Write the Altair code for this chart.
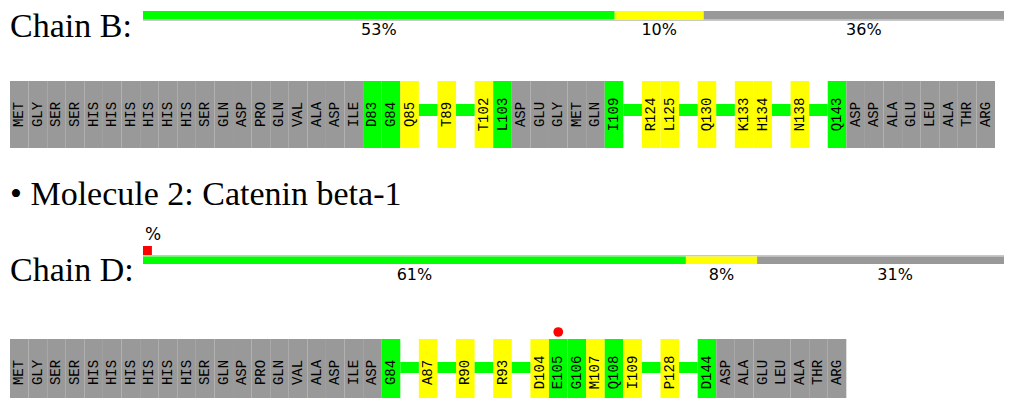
import altair as alt
import pandas as pd

# ---------------- data ----------------
chain_b_labels = ["MET", "GLY", "SER", "SER", "HIS", "HIS", "HIS", "HIS", "HIS", "HIS",
                  "SER", "GLN", "ASP", "PRO", "GLN", "VAL", "ALA", "ASP", "ILE",
                  "D83", "G84", "Q85", "", "T89", "", "T102", "L103",
                  "ASP", "GLU", "GLY", "MET", "GLN", "I109", "", "R124", "L125", "",
                  "Q130", "", "K133", "H134", "", "N138", "", "Q143",
                  "ASP", "ASP", "ALA", "GLU", "LEU", "ALA", "THR", "ARG"]
chain_b_status = ["none"] * 19 + ["ok", "ok", "mod", "gap", "mod", "gap", "mod", "ok",
                  "none", "none", "none", "none", "none", "ok", "gap", "mod", "mod", "gap",
                  "mod", "gap", "mod", "mod", "gap", "mod", "gap", "ok"] + ["none"] * 8

chain_d_labels = ["MET", "GLY", "SER", "SER", "HIS", "HIS", "HIS", "HIS", "HIS", "HIS",
                  "SER", "GLN", "ASP", "PRO", "GLN", "VAL", "ALA", "ASP", "ILE", "ASP",
                  "G84", "", "A87", "", "R90", "", "R93", "", "D104", "E105", "G106",
                  "M107", "Q108", "I109", "", "P128", "", "D144",
                  "ASP", "ALA", "GLU", "LEU", "ALA", "THR", "ARG"]
chain_d_status = ["none"] * 20 + ["ok", "gap", "mod", "gap", "mod", "gap", "mod", "gap",
                  "mod", "ok", "ok", "mod", "ok", "mod", "gap", "mod", "gap", "ok"] + ["none"] * 7
chain_d_outliers = ["E105"]

chain_b_pct_cats = ["ok", "mod", "none"]
chain_b_pct_vals = [53, 10, 36]
chain_d_pct_cats = ["ok", "mod", "none"]
chain_d_pct_vals = [61, 8, 31]
chain_d_density_bad = 1

status_domain = ["none", "ok", "mod", "bad"]
status_colors = ["#999999", "#00ff00", "#ffff00", "#ff0000"]

# ---------------- tables ----------------
def residue_table(labels, status):
    df = pd.DataFrame({"label": labels, "status": status})
    df["slot"] = range(len(df))
    df["slot_end"] = df["slot"] + 1
    df["mid"] = df["slot"] + 0.5
    return df


def pct_table(cats, vals):
    df = pd.DataFrame({"status": cats, "pct": vals})
    df["end"] = df["pct"].cumsum()
    df["start"] = df["end"] - df["pct"]
    df["mid"] = (df["start"] + df["end"]) / 2
    df["text"] = df["pct"].astype(str) + "%"
    return df


rb = residue_table(chain_b_labels, chain_b_status)
rd = residue_table(chain_d_labels, chain_d_status)
pb = pct_table(chain_b_pct_cats, chain_b_pct_vals)
pdd = pct_table(chain_d_pct_cats, chain_d_pct_vals)
dens = pd.DataFrame({"status": ["bad"], "start": [0], "end": [chain_d_density_bad], "text": ["%"]})
track = pd.DataFrame({"start": [0], "end": [100]})

# ---------------- scales ----------------
W, H = 996, 390
res_scale = alt.Scale(domain=[-0.1076, 53.484], nice=False, zero=False)
pct_scale = alt.Scale(domain=[-15.169, 96.742], nice=False, zero=False)
color_scale = alt.Scale(domain=status_domain, range=status_colors)


def residue_layers(df, top, bottom, conn_top, conn_bottom):
    cells = alt.Chart(df).transform_filter("datum.status != 'gap'").mark_rect().encode(
        x=alt.X("slot:Q", scale=res_scale, axis=None),
        x2="slot_end:Q",
        y=alt.value(top), y2=alt.value(bottom),
        color=alt.Color("status:N", scale=color_scale, legend=None),
    )
    conn = alt.Chart(df).transform_filter("datum.status == 'gap'").mark_rect(color="#00ff00").encode(
        x=alt.X("slot:Q", scale=res_scale, axis=None),
        x2="slot_end:Q",
        y=alt.value(conn_top), y2=alt.value(conn_bottom),
    )
    labels = alt.Chart(df).transform_filter("datum.status != 'gap'").mark_text(
        angle=270, font="Liberation Mono", fontSize=14, color="#000000",
        align="center", baseline="middle",
    ).encode(
        x=alt.X("mid:Q", scale=res_scale, axis=None),
        y=alt.value((top + bottom) / 2),
        text="label:N",
    )
    return [cells, conn, labels]


def pct_layers(df, top, bottom, label_y, line_top, line_bottom):
    line = alt.Chart(track).mark_rect(color="#c8c8c8").encode(
        x=alt.X("start:Q", scale=pct_scale, axis=None), x2="end:Q",
        y=alt.value(line_top), y2=alt.value(line_bottom),
    )
    bars = alt.Chart(df).mark_rect().encode(
        x=alt.X("start:Q", scale=pct_scale, axis=None), x2="end:Q",
        y=alt.value(top), y2=alt.value(bottom),
        color=alt.Color("status:N", scale=color_scale, legend=None),
    )
    text = alt.Chart(df).mark_text(font="DejaVu Sans", fontSize=16, color="#000000",
                                   align="center", baseline="middle").encode(
        x=alt.X("mid:Q", scale=pct_scale, axis=None),
        y=alt.value(label_y),
        text="text:N",
    )
    return [line, bars, text]


def title(txt, y):
    return alt.Chart(pd.DataFrame({"t": [txt]})).mark_text(
        font="Liberation Serif", fontSize=34, align="left", baseline="alphabetic", color="#000000"
    ).encode(x=alt.value(2), y=alt.value(y), text="t:N")


layers = []
layers.append(title("Chain B:", 28.5))
layers.append(title("\u2022 Molecule 2: Catenin beta-1", 197))
layers.append(title("Chain D:", 273))
layers += pct_layers(pb, 3, 11.5, 22, 11.5, 13)
layers += pct_layers(pdd, 248.5, 256, 267, 247, 248.5)

dens_bar = alt.Chart(dens).mark_rect().encode(
    x=alt.X("start:Q", scale=pct_scale, axis=None), x2="end:Q",
    y=alt.value(238), y2=alt.value(247),
    color=alt.Color("status:N", scale=color_scale, legend=None),
)
dens_text = alt.Chart(dens).mark_text(font="DejaVu Sans", fontSize=17, align="left",
                                      baseline="middle", dx=2, color="#000000").encode(
    x=alt.X("start:Q", scale=pct_scale, axis=None),
    y=alt.value(227),
    text="text:N",
)
layers += [dens_bar, dens_text]

layers += residue_layers(rb, 73, 140, 96, 108)
layers += residue_layers(rd, 331, 398, 354, 365)

outliers = alt.Chart(rd).transform_filter(
    alt.FieldOneOfPredicate(field="label", oneOf=chain_d_outliers)
).mark_circle(color="#ff0000", opacity=1, size=95).encode(
    x=alt.X("mid:Q", scale=res_scale, axis=None),
    y=alt.value(324),
)
layers.append(outliers)

chart = alt.layer(*layers).resolve_scale(x="independent").properties(
    width=W, height=H, padding=0,
    autosize=alt.AutoSizeParams(type="none"),
).configure_view(strokeWidth=0)

chart.save("out.html", embed_options={"renderer": "svg", "actions": False})
